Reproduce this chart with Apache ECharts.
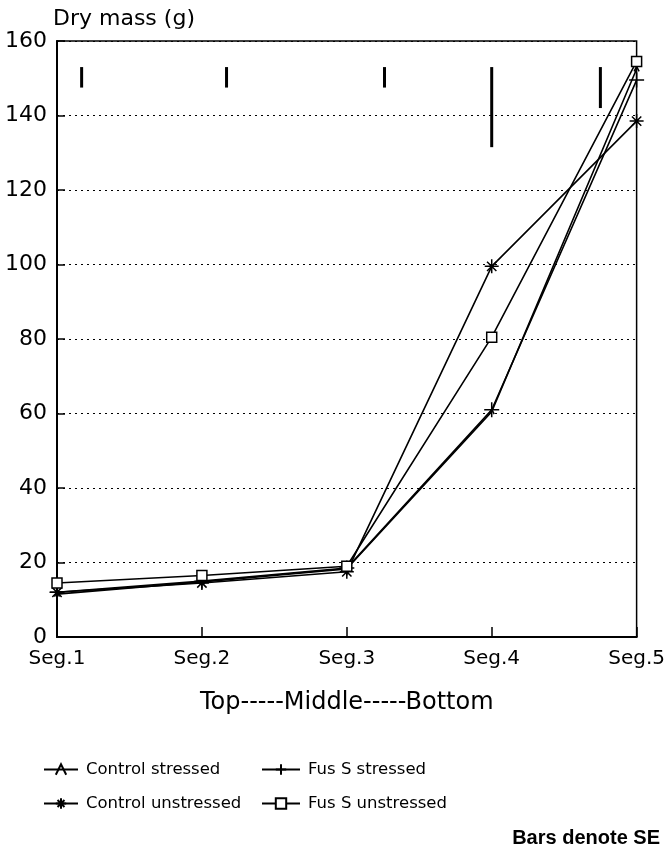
<!DOCTYPE html>
<html>
<head>
<meta charset="utf-8">
<script src="https://cdn.jsdelivr.net/npm/echarts@6/dist/echarts.min.js"></script>
<style>
  html, body { margin: 0; padding: 0; background: #fff; }
  #dry-mass-chart { width: 668px; height: 853px; }
</style>
</head>
<body>
<div id="dry-mass-chart"></div>
<script>
var seg_pos = [1, 2, 3, 4, 5];
var seg_names = ['Seg.1', 'Seg.2', 'Seg.3', 'Seg.4', 'Seg.5'];
var control_stressed = [11.5, 14.8, 18.3, 60.5, 152.5];
var control_unstressed = [12, 14.5, 17.5, 99.5, 138.5];
var fus_stressed = [12, 15, 18.5, 61, 149.5];
var fus_unstressed = [14.5, 16.5, 19, 80.5, 154.5];

// SE bars drawn across the top
var se_x = [1.17, 2.17, 3.26, 4.0, 4.75];
var se_low = [147.5, 147.5, 147.5, 131.5, 142];
var se_high = [153, 153, 153, 153, 153];

function pairs(values) {
  return seg_pos.map(function (x, i) {
    return [x, values[i]];
  });
}

function line_series(name, values, symbol, size, fill) {
  return {
    name: name,
    type: 'line',
    data: pairs(values),
    symbol: symbol,
    symbolSize: size,
    showAllSymbol: true,
    lineStyle: { color: '#000', width: 1.6 },
    itemStyle: { color: fill, borderColor: '#000', borderWidth: 1.5 },
    emphasis: { disabled: true },
    z: 3
  };
}

function draw_dry_mass_chart() {
  var chart = echarts.init(document.getElementById('dry-mass-chart'));
  var font = 'DejaVu Sans';

  var se_data = se_x.map(function (x, i) {
    return [x, se_low[i], se_high[i]];
  });

  var legend_text = { fontFamily: font, fontSize: 16.5, color: '#000', padding: [0, 0, 0, 3] };

  var option = {
    animation: false,
    backgroundColor: '#fff',
    grid: {
      left: 57,
      right: 31,
      top: 41,
      bottom: 216,
      show: true,
      borderColor: '#000',
      borderWidth: 1.5
    },
    legend: [{
      data: ['Control stressed', 'Control unstressed'],
      orient: 'vertical',
      left: 38,
      top: 756,
      itemWidth: 34,
      itemHeight: 13,
      itemGap: 17,
      selectedMode: false,
      textStyle: legend_text
    }, {
      data: ['Fus S stressed', 'Fus S unstressed'],
      orient: 'vertical',
      left: 256,
      top: 756,
      itemWidth: 38,
      itemHeight: 13,
      itemGap: 17,
      selectedMode: false,
      textStyle: legend_text
    }],
    xAxis: {
      type: 'value',
      min: 1,
      max: 5,
      interval: 1,
      name: 'Top-----Middle-----Bottom',
      nameLocation: 'middle',
      nameGap: 54,
      nameTextStyle: { fontFamily: font, fontSize: 24, color: '#000' },
      axisLine: { lineStyle: { color: '#000', width: 2 } },
      axisTick: { inside: true, length: 10, lineStyle: { color: '#000', width: 1.5 } },
      axisLabel: {
        margin: 12,
        fontFamily: font,
        fontSize: 20,
        color: '#000',
        formatter: function (v) {
          return seg_names[seg_pos.indexOf(v)] || '';
        }
      },
      splitLine: { show: false }
    },
    yAxis: {
      type: 'value',
      min: 0,
      max: 160,
      interval: 20,
      name: 'Dry mass (g)',
      nameLocation: 'end',
      nameGap: 11,
      nameTextStyle: { fontFamily: font, fontSize: 22, color: '#000', align: 'left', padding: [0, 0, 0, -4] },
      axisLine: { show: true, lineStyle: { color: '#000', width: 2 } },
      axisTick: { show: true, inside: true, length: 8, lineStyle: { color: '#000', width: 1.5 } },
      axisLabel: { margin: 10, fontFamily: font, fontSize: 22, color: '#000' },
      splitLine: { show: true, lineStyle: { color: '#000', type: [2, 4], width: 1.2 } }
    },
    series: [
      line_series('Control stressed', control_stressed, 'path://M0,10 L5,0 L10,10', 5, 'none'),
      line_series('Control unstressed', control_unstressed, 'path://M0,6 L12,6 M6,0 L6,12 M2,2 L10,10 M2,10 L10,2', 14, 'none'),
      line_series('Fus S stressed', fus_stressed, 'path://M0,6 L12,6 M6,0 L6,12', 15, 'none'),
      line_series('Fus S unstressed', fus_unstressed, 'rect', 10, '#fff'),
      {
        type: 'custom',
        data: se_data,
        silent: true,
        renderItem: function (params, api) {
          var top = api.coord([api.value(0), api.value(2)]);
          var bottom = api.coord([api.value(0), api.value(1)]);
          return {
            type: 'line',
            shape: { x1: top[0], y1: top[1], x2: bottom[0], y2: bottom[1] },
            style: { stroke: '#000', lineWidth: 3 }
          };
        },
        z: 4
      }
    ],
    graphic: [{
      type: 'text',
      right: 8,
      top: 828,
      style: {
        text: 'Bars denote SE',
        font: 'bold 20px "Liberation Sans"',
        fill: '#000'
      }
    }]
  };

  chart.setOption(option);
  window.addEventListener('resize', function () {
    chart.resize();
  });
}

draw_dry_mass_chart();
</script>
</body>
</html>
